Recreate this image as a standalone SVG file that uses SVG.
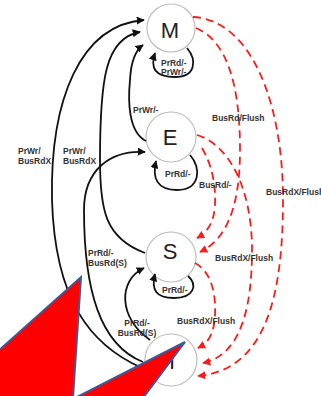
<svg xmlns="http://www.w3.org/2000/svg" width="321" height="396" viewBox="0 0 321 396">
<style>
.st{fill:#fff;stroke:#bdbdbd;stroke-width:1.2}
.lt{font-family:"Liberation Sans",Arial,sans-serif;font-size:22px;fill:#222;text-anchor:middle}
.lb{font-family:"Liberation Sans",Arial,sans-serif;font-size:8.5px;font-weight:bold;fill:#333}
.bk{fill:none;stroke:#111;stroke-width:1.8;marker-end:url(#ab)}
.rd{fill:none;stroke:#ff1a1a;stroke-width:1.8;stroke-dasharray:8 5;marker-end:url(#ar)}
.tri{fill:#ff0000;stroke:#3a5a9a;stroke-width:2;stroke-linejoin:miter}
</style>
<defs>
<marker id="ab" viewBox="0 0 10 10" refX="9" refY="5" markerWidth="4.5" markerHeight="4.5" orient="auto" markerUnits="strokeWidth"><path d="M0,0 L10,5 L0,10 z" fill="#111"/></marker>
<marker id="ar" viewBox="0 0 10 10" refX="9" refY="5" markerWidth="4.5" markerHeight="4.5" orient="auto" markerUnits="strokeWidth"><path d="M0,0 L10,5 L0,10 z" fill="#ff1a1a"/></marker>
</defs>
<g id="node-M"><circle class="st" cx="171" cy="28" r="24"/><text class="lt" x="170" y="38">M</text></g>
<g id="node-E"><circle class="st" cx="171" cy="137" r="25"/><text class="lt" x="170" y="145">E</text></g>
<g id="node-S"><circle class="st" cx="171" cy="257" r="25"/><text class="lt" x="170" y="259">S</text></g>
<g id="node-I"><circle class="st" cx="171" cy="360" r="26"/><text class="lt" x="172" y="369">I</text></g>
<g id="connectors">
<path class="bk" d="M142,368 C90,345 55,300 52,200 C50,100 80,25 144,20"/>
<path class="bk" d="M145,253 C105,238 100,210 100,160 C100,80 105,38 140,32"/>
<path class="bk" d="M146,141 C128,132 128,100 130,80 C131,60 136,50 143,45"/>
<path class="bk" d="M143,362 C100,345 84,290 84,210 C84,170 110,150 145,152"/>
<path class="bk" d="M150,340 C118,318 118,280 144,268"/>
<path class="bk" d="M187,48 C197,60 196,77 175,77 C155,77 150,68 155,53"/>
<path class="bk" d="M190,155 C202,168 200,190 177,190 C157,190 152,178 156,161"/>
<path class="bk" d="M188,276 C198,285 194,298 174,298 C156,298 151,290 155,274"/>
<path class="rd" d="M193,17 C250,20 283,100 283,200 C283,305 262,370 198,376"/>
<path class="rd" d="M196,28 C225,40 240,80 240,150 C240,210 225,240 200,252"/>
<path class="rd" d="M197,135 C230,145 252,190 252,250 C252,310 240,355 203,363"/>
<path class="rd" d="M202,148 C212,165 216,185 215,205 C214,222 208,232 197,238"/>
<path class="rd" d="M195,263 C212,272 216,295 215,315 C214,335 208,343 198,348"/>
</g>
<g id="labels">
<text class="lb" x="161" y="66">PrRd/-</text>
<text class="lb" x="161" y="75">PrWr/-</text>
<text class="lb" x="165" y="177">PrRd/-</text>
<text class="lb" x="162" y="293">PrRd/-</text>
<text class="lb" x="133" y="113">PrWr/-</text>
<text class="lb" x="18" y="154">PrWr/</text>
<text class="lb" x="18" y="164">BusRdX</text>
<text class="lb" x="63" y="154">PrWr/</text>
<text class="lb" x="63" y="164">BusRdX</text>
<text class="lb" x="88" y="256">PrRd/-</text>
<text class="lb" x="88" y="266">BusRd(S)</text>
<text class="lb" x="137" y="326" text-anchor="middle">PrRd/-</text>
<text class="lb" x="137" y="336" text-anchor="middle">BusRd(S)</text>
<text class="lb" x="212" y="121">BusRd/Flush</text>
<text class="lb" x="266" y="195">BusRdX/Flush</text>
<text class="lb" x="199" y="188">BusRd/-</text>
<text class="lb" x="215" y="261">BusRdX/Flush</text>
<text class="lb" x="177" y="324">BusRdX/Flush</text>
</g>
<g id="shapes">
<polygon class="tri" points="-2,351 81,277 73,398 -2,398"/>
<polygon class="tri" points="75,398 185,342 143,398"/>
</g>
</svg>
